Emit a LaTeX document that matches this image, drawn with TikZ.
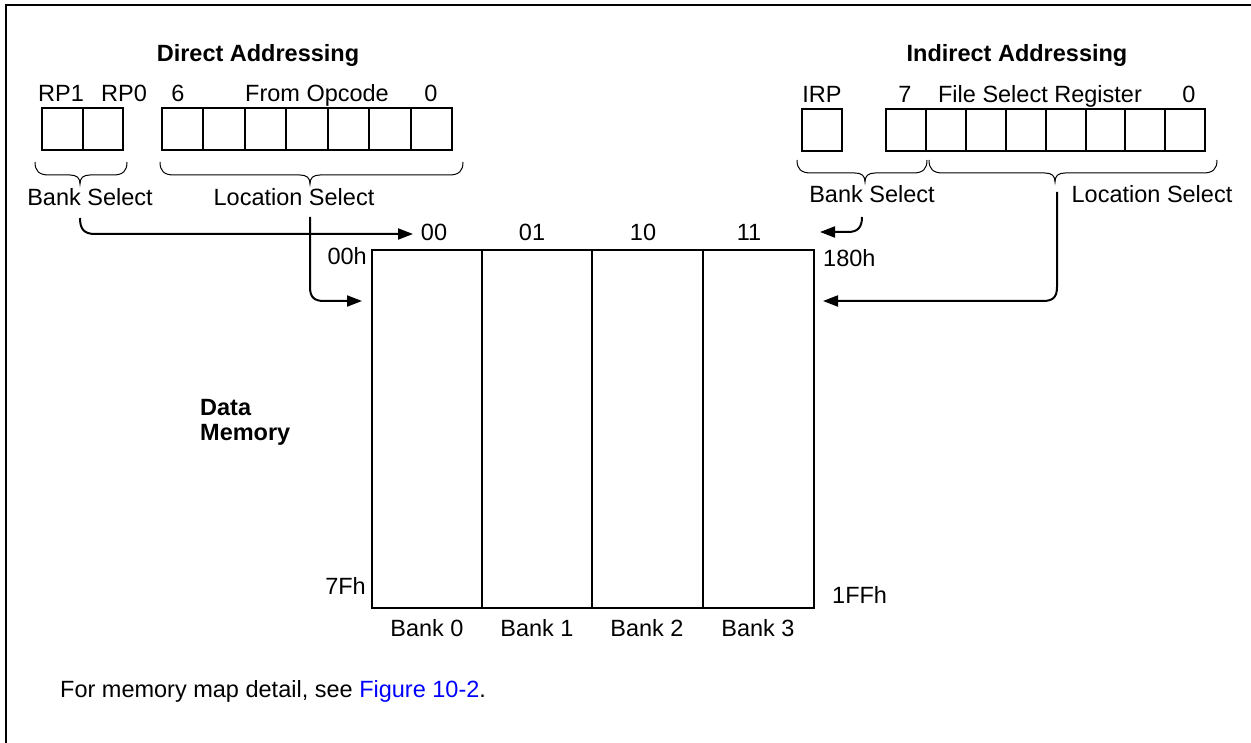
\documentclass[tikz,border=0pt]{standalone}
\usepackage{fontspec}
\setmainfont{Liberation Sans}
\usetikzlibrary{arrows.meta}
\newcommand\bracepath[4]{% #1 left x, #2 right x, #3 tip x, #4 top y
  \draw[brace] (#1,#4) .. controls (#1,#4+9) and (#1+4,#4+13) .. (#1+14,#4+13)
    -- (#3-10,#4+13) .. controls (#3-3,#4+13) and (#3,#4+16) .. (#3,#4+22)
    .. controls (#3,#4+16) and (#3+3,#4+13) .. (#3+10,#4+13)
    -- (#2-14,#4+13) .. controls (#2-4,#4+13) and (#2,#4+9) .. (#2,#4);}
\begin{document}
\begin{tikzpicture}[x=1pt,y=-1pt,
  every node/.style={font=\fontsize{23.5}{21}\selectfont, inner sep=0pt},
  lbl/.style={anchor=base},
  ttl/.style={anchor=base, font=\fontsize{23.5}{21}\selectfont\bfseries},
  cell/.style={draw, line width=2pt, minimum height=42pt, inner sep=0pt},
  brace/.style={line width=1pt},
  arr/.style={line width=2pt, -{Triangle[length=15pt,width=11pt]}},
  frameline/.style={line width=2.5pt}]
\useasboundingbox (0,0) rectangle (1251,743);
% frame
\coordinate (ftr) at (1251,5);
\coordinate (ftl) at (6,5);
\coordinate (fbl) at (6,743);
\draw[frameline] (ftr) -- (ftl) -- (fbl);
% titles
\node[ttl] (tdir) at (258,62) {Direct Addressing};
\node[ttl] (tind) at (1017,62) {Indirect Addressing};
% direct register labels
\node[lbl] (lrp1) at (61,102) {RP1};
\node[lbl] (lrp0) at (124,102) {RP0};
\node[lbl] (l6) at (178,102) {6};
\node[lbl] (lfo) at (317,102) {From Opcode};
\node[lbl] (l0a) at (431,102) {0};
% direct register cells
\foreach \i in {0,1} \node[cell, minimum width=40.5pt] (rp\i) at ({62.25+40.5*\i},129) {};
\foreach \i in {0,...,6} \node[cell, minimum width=41.43pt] (op\i) at ({182.7+41.43*\i},129) {};
% indirect register labels
\node[lbl] (lirp) at (822,103) {IRP};
\node[lbl] (l7) at (905,103) {7};
\node[lbl] (lfsr) at (1040,103) {File Select Register};
\node[lbl] (l0b) at (1189,103) {0};
% indirect cells
\node[cell, minimum width=40pt] (irp) at (822,130) {};
\foreach \i in {0,...,7} \node[cell, minimum width=39.9pt] (fsr\i) at ({905.95+39.9*\i},130) {};
% braces
\bracepath{35}{127}{80}{162}
\bracepath{160}{463}{310}{162}
\bracepath{797}{927}{865}{160}
\bracepath{929}{1217}{1055}{160}
% brace labels
\node[lbl] (bsl) at (90,206) {Bank Select};
\node[lbl] (lsl) at (294,206) {Location Select};
\node[lbl] (bsr) at (872,203) {Bank Select};
\node[lbl] (lsr) at (1152,203) {Location Select};
% memory
\node[draw, line width=2pt, minimum width=442pt, minimum height=358pt, anchor=north west] (mem) at (371,249) {};
\foreach \x in {482,592,703} \draw[line width=2pt] (\x,249) -- (\x,607);
\node[lbl] (b00) at (434,241) {00};
\node[lbl] (b01) at (532,241) {01};
\node[lbl] (b10) at (643,241) {10};
\node[lbl] (b11) at (749,241) {11};
\node[anchor=base east] (a00h) at (367,265) {00h};
\node[anchor=base east] (a7fh) at (366,594) {7Fh};
\node[anchor=base west] (a180h) at (823,267) {180h};
\node[anchor=base west] (a1ffh) at (832,603) {1FFh};
\node[lbl] (bk0) at (427,636) {Bank 0};
\node[lbl] (bk1) at (537,636) {Bank 1};
\node[lbl] (bk2) at (647,636) {Bank 2};
\node[lbl] (bk3) at (758,636) {Bank 3};
\node[anchor=base west, font=\fontsize{23.5}{21}\selectfont\bfseries] (dm1) at (200,416) {Data};
\node[anchor=base west, font=\fontsize{23.5}{21}\selectfont\bfseries] (dm2) at (200,440) {Memory};
% arrows
\coordinate (s1) at (80,218);
\coordinate (e1) at (413,234);
\draw[arr] (s1) .. controls (80,229) and (84,234) .. (95,234) -- (e1);
\coordinate (s2) at (310,217);
\coordinate (e2) at (362,301);
\draw[arr] (s2) -- (310,287) .. controls (310,297) and (314,301) .. (324,301) -- (e2);
\coordinate (s3) at (862,217);
\coordinate (e3) at (820,232);
\draw[arr] (s3) .. controls (862,227) and (858,232) .. (848,232) -- (e3);
\coordinate (s4) at (1057,192);
\coordinate (e4) at (823,301);
\draw[arr] (s4) -- (1057,287) .. controls (1057,297) and (1053,301) .. (1043,301) -- (e4);
% footnote
\node[anchor=base west] (fn) at (60,697) {For memory map detail, see \textcolor{blue}{Figure 10-2}.};
\end{tikzpicture}
\end{document}
